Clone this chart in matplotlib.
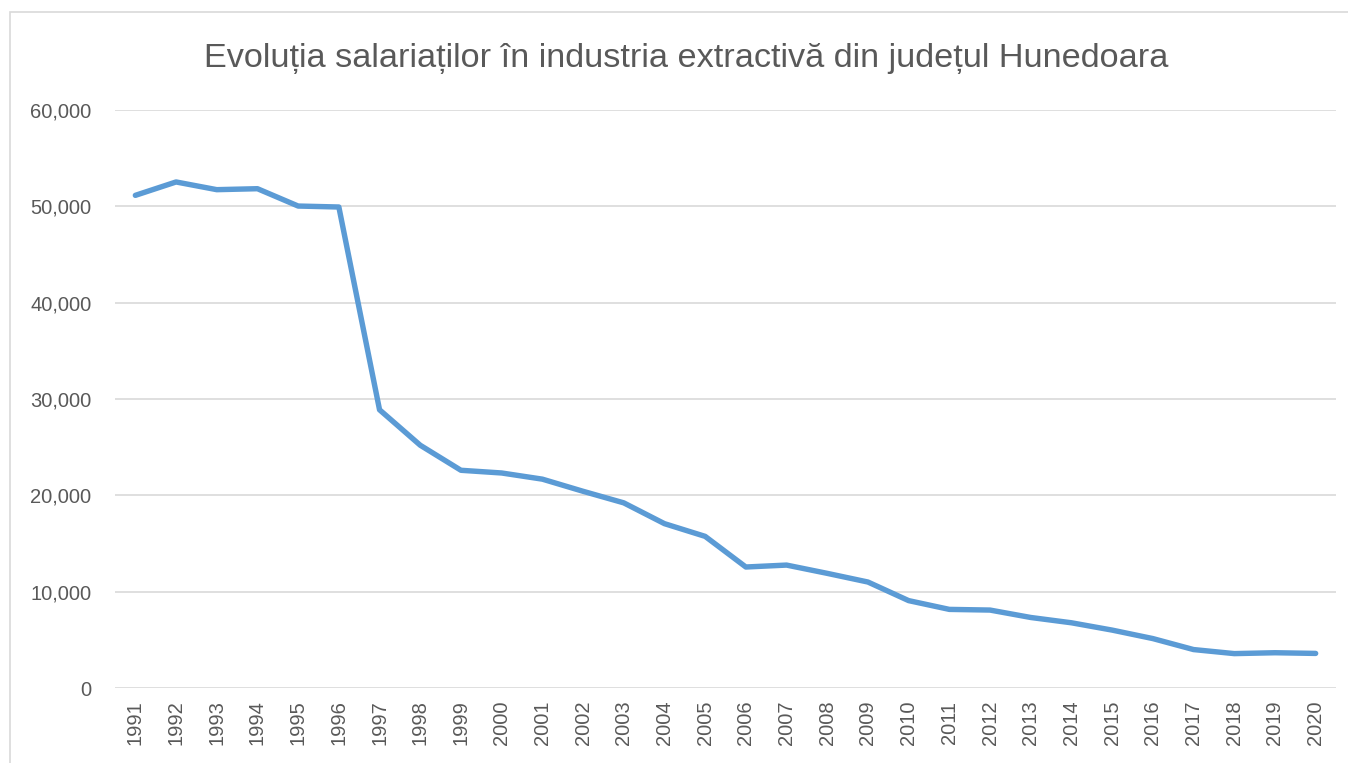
import matplotlib.pyplot as plt
import matplotlib.patches as patches

# Number of employees in the extractive industry, Hunedoara county
years = [str(y) for y in range(1991, 2021)]
employees = [51140, 52530, 51730, 51830, 50030, 49930, 28880, 25200, 22600, 22320,
             21680, 20420, 19220, 17060, 15740, 12560, 12760, 11900, 11000, 9070,
             8160, 8090, 7320, 6770, 6010, 5130, 3990, 3570, 3660, 3590]

title = 'Evoluția salariaților în industria extractivă din județul Hunedoara'

plt.rcParams['font.family'] = ['Liberation Sans', 'DejaVu Sans']

fig = plt.figure(figsize=(13.48, 7.63), dpi=100)
ax = fig.add_axes([115 / 1348, 1 - 688 / 763, (1336 - 115) / 1348, (688 - 110) / 763])

ax.plot(range(len(years)), employees, color='#5B9BD5', linewidth=3.9,
        solid_capstyle='round', solid_joinstyle='round', zorder=3)

ax.set_xlim(-0.5, len(years) - 0.5)
ax.set_ylim(0, 60000)
ax.set_yticks(range(0, 60001, 10000))
ax.set_yticklabels([f'{v:,}' for v in range(0, 60001, 10000)])
ax.set_xticks(range(len(years)))
ax.set_xticklabels(years, rotation=90)

ax.grid(axis='y', color='#D9D9D9', linewidth=1.2, zorder=0)
for s in ax.spines.values():
    s.set_visible(False)
ax.tick_params(axis='both', length=0, labelsize=14.5, colors='#595959')
ax.tick_params(axis='y', pad=17)
ax.tick_params(axis='x', pad=9)

fig.text(686 / 1348, 1 - 58 / 763, title, ha='center', va='center', fontsize=24.7, color='#595959')

# chart area border
fig.patches.append(patches.Rectangle((10 / 1348, -0.01), 1.0, 1 - 12 / 763 + 0.01,
                                     transform=fig.transFigure, fill=False,
                                     edgecolor='#D9D9D9', linewidth=1.2))

fig.savefig('out.png', dpi=100)
